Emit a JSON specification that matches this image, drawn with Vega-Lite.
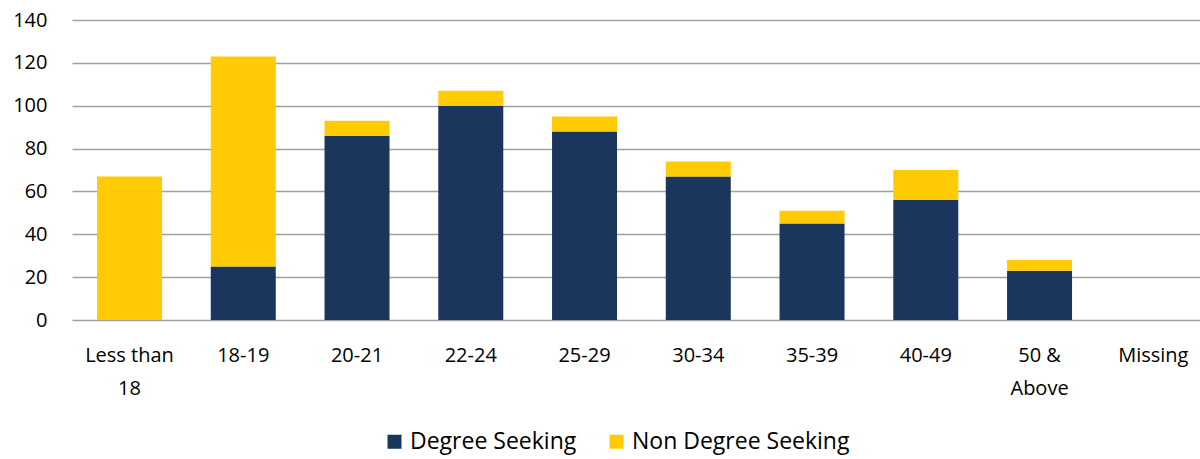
{
  "$schema": "https://vega.github.io/schema/vega-lite/v6.json",
  "width": 1128,
  "height": 300,
  "autosize": {"type": "none"},
  "padding": {"left": 72, "top": 20, "right": 0, "bottom": 139},
  "background": "white",
  "config": {
    "view": {"stroke": null},
    "font": "Open Sans",
    "axis": {"labelFont": "Open Sans", "labelColor": "#000000", "labelFontSize": 20},
    "legend": {"labelFont": "Open Sans", "labelColor": "#000000", "labelFontSize": 23}
  },
  "data": {
    "values": [
      {"age": "Less than 18", "type": "Degree Seeking", "order": 1, "count": 0},
      {"age": "Less than 18", "type": "Non Degree Seeking", "order": 2, "count": 67},
      {"age": "18-19", "type": "Degree Seeking", "order": 1, "count": 25},
      {"age": "18-19", "type": "Non Degree Seeking", "order": 2, "count": 98},
      {"age": "20-21", "type": "Degree Seeking", "order": 1, "count": 86},
      {"age": "20-21", "type": "Non Degree Seeking", "order": 2, "count": 7},
      {"age": "22-24", "type": "Degree Seeking", "order": 1, "count": 100},
      {"age": "22-24", "type": "Non Degree Seeking", "order": 2, "count": 7},
      {"age": "25-29", "type": "Degree Seeking", "order": 1, "count": 88},
      {"age": "25-29", "type": "Non Degree Seeking", "order": 2, "count": 7},
      {"age": "30-34", "type": "Degree Seeking", "order": 1, "count": 67},
      {"age": "30-34", "type": "Non Degree Seeking", "order": 2, "count": 7},
      {"age": "35-39", "type": "Degree Seeking", "order": 1, "count": 45},
      {"age": "35-39", "type": "Non Degree Seeking", "order": 2, "count": 6},
      {"age": "40-49", "type": "Degree Seeking", "order": 1, "count": 56},
      {"age": "40-49", "type": "Non Degree Seeking", "order": 2, "count": 14},
      {"age": "50 & Above", "type": "Degree Seeking", "order": 1, "count": 23},
      {"age": "50 & Above", "type": "Non Degree Seeking", "order": 2, "count": 5},
      {"age": "Missing", "type": "Degree Seeking", "order": 1, "count": 0},
      {"age": "Missing", "type": "Non Degree Seeking", "order": 2, "count": 0}
    ]
  },
  "mark": {"type": "bar"},
  "encoding": {
    "x": {
      "field": "age",
      "type": "nominal",
      "sort": null,
      "scale": {"paddingInner": 0.4286, "paddingOuter": 0.1723, "align": 0.638},
      "axis": {
        "title": null,
        "labelAngle": 0,
        "domain": false,
        "ticks": false,
        "labelPadding": 25,
        "labelLineHeight": 33,
        "labelExpr": "datum.label == 'Less than 18' ? ['Less than', '18'] : datum.label == '50 & Above' ? ['50 &', 'Above'] : datum.label"
      }
    },
    "y": {
      "field": "count",
      "type": "quantitative",
      "stack": "zero",
      "scale": {"domain": [0, 140]},
      "axis": {
        "title": null,
        "values": [0, 20, 40, 60, 80, 100, 120, 140],
        "domain": false,
        "ticks": false,
        "labelPadding": 25,
        "gridColor": "#a0a0a0",
        "gridWidth": 1.5
      }
    },
    "color": {
      "field": "type",
      "type": "nominal",
      "scale": {"domain": ["Degree Seeking", "Non Degree Seeking"], "range": ["#1b365d", "#ffcb05"]},
      "legend": {
        "title": null,
        "orient": "none",
        "direction": "horizontal",
        "legendX": 311,
        "legendY": 410,
        "symbolType": "square",
        "symbolSize": 196,
        "symbolStrokeWidth": 0,
        "columnPadding": 28,
        "labelOffset": 4,
        "labelLimit": 0
      }
    },
    "order": {"field": "order", "type": "quantitative"}
  }
}
